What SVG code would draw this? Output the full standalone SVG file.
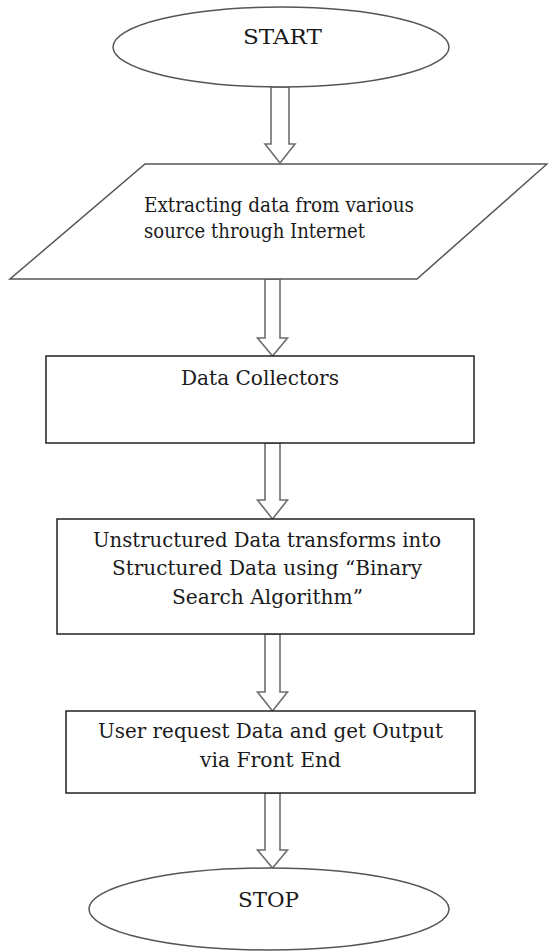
<svg xmlns="http://www.w3.org/2000/svg" width="548" height="951" viewBox="0 0 548 951">
<style>
.bg{fill:#fff}
.shape{fill:#fff;stroke:#555;stroke-width:1.5}
.box{fill:#fff;stroke:#222;stroke-width:1.5}
.arrow{fill:#fff;stroke:#6e6e6e;stroke-width:1.6;stroke-linejoin:miter}
text{font-family:"DejaVu Serif","Liberation Serif",serif;font-size:20px;fill:#1a1a1a}
.c{text-anchor:middle}
</style>
<rect class="bg" x="0" y="0" width="548" height="951"/>
<g id="connectors">
<polygon class="arrow" points="271,87 289,87 289,144 295,144 280,163 265,144 271,144"/>
<polygon class="arrow" points="265,279 280,279 280,338 287.5,338 272.5,356 257.5,338 265,338"/>
<polygon class="arrow" points="265,443 280,443 280,500 287.5,500 272.5,519 257.5,500 265,500"/>
<polygon class="arrow" points="265,634 280,634 280,692 287.5,692 272.5,711 257.5,692 265,692"/>
<polygon class="arrow" points="265,793 280,793 280,850 287.5,850 272.5,868 257.5,850 265,850"/>
</g>
<g id="start">
<ellipse class="shape" cx="281" cy="47" rx="168" ry="40"/>
<text class="c" x="282.5" y="44" textLength="79" lengthAdjust="spacingAndGlyphs">START</text>
</g>
<g id="extract">
<polygon class="shape" points="145,164 547,164 417,279 10,279"/>
<text x="144" y="212" textLength="270" lengthAdjust="spacingAndGlyphs">Extracting data from various</text>
<text x="144" y="238" textLength="221" lengthAdjust="spacingAndGlyphs">source through Internet</text>
</g>
<g id="collectors">
<rect class="box" x="46" y="356" width="428" height="87"/>
<text class="c" x="260" y="385" textLength="158" lengthAdjust="spacingAndGlyphs">Data Collectors</text>
</g>
<g id="transform">
<rect class="box" x="57" y="519" width="417" height="115"/>
<text class="c" x="267" y="547" textLength="348" lengthAdjust="spacingAndGlyphs">Unstructured Data transforms into</text>
<text class="c" x="267" y="575" textLength="310" lengthAdjust="spacingAndGlyphs">Structured Data using “Binary</text>
<text class="c" x="267.5" y="604" textLength="191" lengthAdjust="spacingAndGlyphs">Search Algorithm”</text>
</g>
<g id="output">
<rect class="box" x="66" y="711" width="409" height="82"/>
<text class="c" x="270.5" y="738" textLength="345" lengthAdjust="spacingAndGlyphs">User request Data and get Output</text>
<text class="c" x="270.5" y="767" textLength="141" lengthAdjust="spacingAndGlyphs">via Front End</text>
</g>
<g id="stop">
<ellipse class="shape" cx="269" cy="909" rx="180" ry="41"/>
<text class="c" x="268.5" y="907" textLength="61" lengthAdjust="spacingAndGlyphs">STOP</text>
</g>
</svg>
